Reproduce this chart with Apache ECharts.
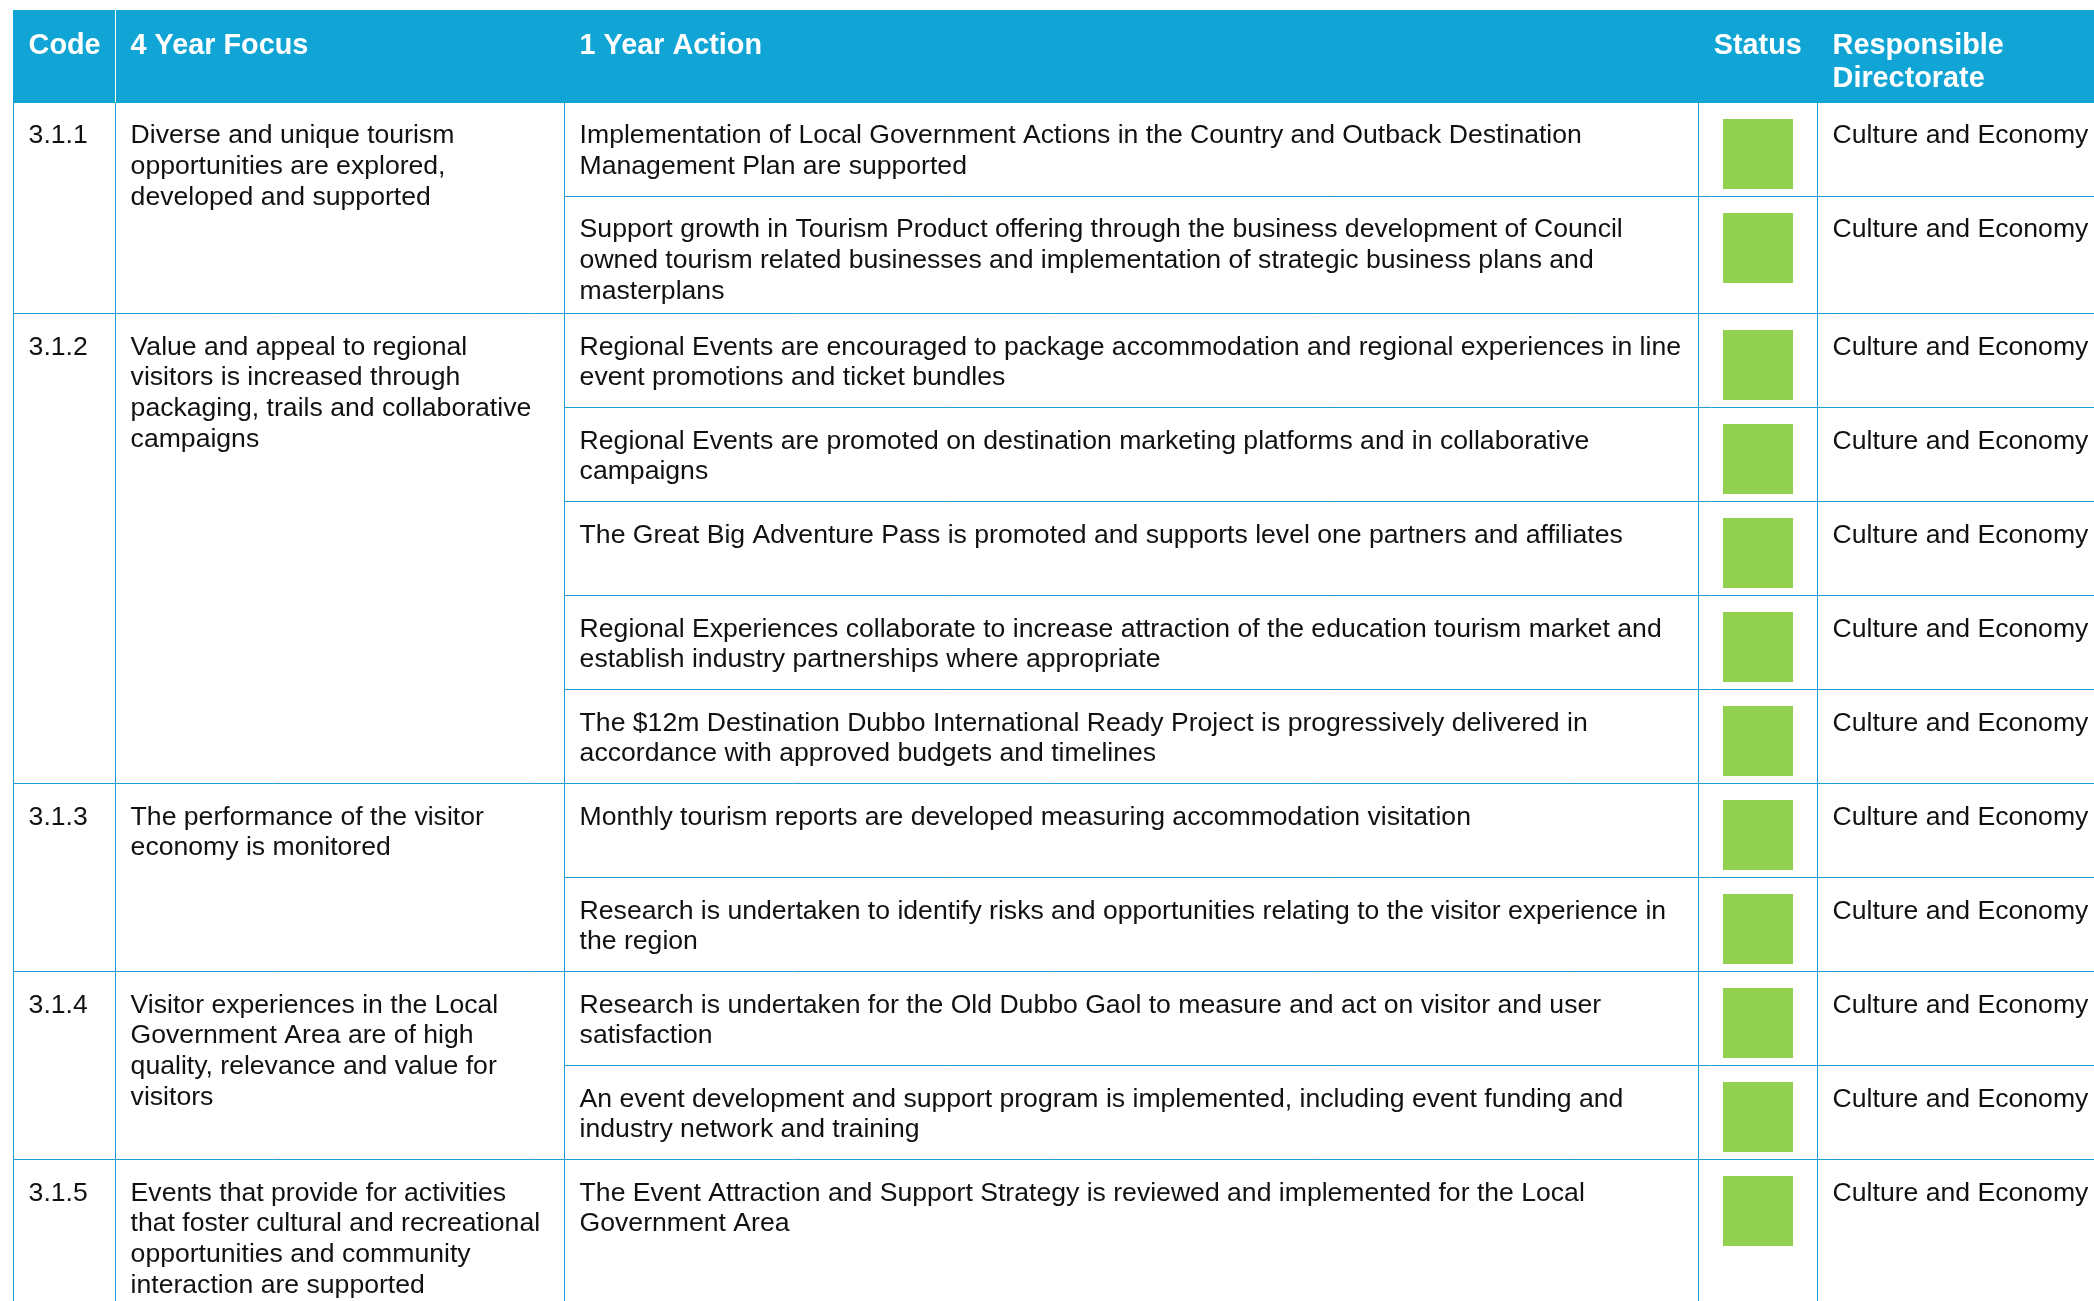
<!DOCTYPE html>
<html><head><meta charset="utf-8">
<script src="https://cdn.jsdelivr.net/npm/echarts@6/dist/echarts.min.js"></script>
<style>html,body{margin:0;padding:0;background:#fff}#c{width:2094px;height:1301px}</style>
</head><body><div id="c"></div>
<script>
// ---------- data ----------
const headers = ['Code', '4 Year Focus', '1 Year Action', 'Status', 'Responsible\nDirectorate'];
const codes = ['3.1.1', '3.1.2', '3.1.3', '3.1.4', '3.1.5'];
const focusAreas = [
  'Diverse and unique tourism\nopportunities are explored,\ndeveloped and supported',
  'Value and appeal to regional\nvisitors is increased through\npackaging, trails and collaborative\ncampaigns',
  'The performance of the visitor\neconomy is monitored',
  'Visitor experiences in the Local\nGovernment Area are of high\nquality, relevance and value for\nvisitors',
  'Events that provide for activities\nthat foster cultural and recreational\nopportunities and community\ninteraction are supported'
];
const actionCodes = ['3.1.1', '3.1.1', '3.1.2', '3.1.2', '3.1.2', '3.1.2', '3.1.2', '3.1.3', '3.1.3', '3.1.4', '3.1.4', '3.1.5'];
const actions = [
  'Implementation of Local Government Actions in the Country and Outback Destination\nManagement Plan are supported',
  'Support growth in Tourism Product offering through the business development of Council\nowned tourism related businesses and implementation of strategic business plans and\nmasterplans',
  'Regional Events are encouraged to package accommodation and regional experiences in line\nevent promotions and ticket bundles',
  'Regional Events are promoted on destination marketing platforms and in collaborative\ncampaigns',
  'The Great Big Adventure Pass is promoted and supports level one partners and affiliates',
  'Regional Experiences collaborate to increase attraction of the education tourism market and\nestablish industry partnerships where appropriate',
  'The $12m Destination Dubbo International Ready Project is progressively delivered in\naccordance with approved budgets and timelines',
  'Monthly tourism reports are developed measuring accommodation visitation',
  'Research is undertaken to identify risks and opportunities relating to the visitor experience in\nthe region',
  'Research is undertaken for the Old Dubbo Gaol to measure and act on visitor and user\nsatisfaction',
  'An event development and support program is implemented, including event funding and\nindustry network and training',
  'The Event Attraction and Support Strategy is reviewed and implemented for the Local\nGovernment Area'
];
const statuses = ['On track', 'On track', 'On track', 'On track', 'On track', 'On track',
                  'On track', 'On track', 'On track', 'On track', 'On track', 'On track'];
const directorates = ['Culture and Economy', 'Culture and Economy', 'Culture and Economy', 'Culture and Economy',
                      'Culture and Economy', 'Culture and Economy', 'Culture and Economy', 'Culture and Economy',
                      'Culture and Economy', 'Culture and Economy', 'Culture and Economy', 'Culture and Economy'];

// ---------- layout & style ----------
const W = 2094, H = 1301;
const COLS = [13.3, 115.3, 564.3, 1698.3, 1817.3, W];
const HEAD_TOP = 10, HEAD_BOT = 102.6;
const PAD = 15.3, FS = 26.6, LH = 30.7, HFS = 28.8, HLH = 33.3;
const TEXT_DY = 18.2, HEAD_TEXT_Y = 29.0;
const MIN_ROW = 94, ROW_EXTRA = 25, SQ = 70, SQ_DY = 16.7;
const FONT = "'Liberation Sans', Arial, Helvetica, sans-serif";
const BLUE = '#11a5d6', LINE = '#1e9dd3', TEXT = '#111111';
const STATUS_COLORS = { 'On track': '#92d050' };

const nLines = s => s.split('\n').length;
const rowTop = [], rowBot = [];
let yAcc = HEAD_BOT;
actions.forEach(a => {
  const h = Math.max(MIN_ROW, nLines(a) * LH + ROW_EXTRA);
  rowTop.push(yAcc); yAcc += h; rowBot.push(yAcc);
});
const gTop = [], gBot = [];
codes.forEach((c, g) => {
  const idx = actionCodes.map((ac, i) => ac === c ? i : -1).filter(i => i >= 0);
  const t = rowTop[idx[0]];
  let b = rowBot[idx[idx.length - 1]];
  b = Math.max(b, t + nLines(focusAreas[g]) * LH + ROW_EXTRA);
  gTop.push(t); gBot.push(b);
});
const snap = v => Math.floor(v) + 0.5;

function txt(text, x, y, opt) {
  return {
    type: 'text',
    style: Object.assign({
      text: text, x: x, y: y, fill: TEXT, fontSize: FS, fontFamily: FONT,
      lineHeight: LH, align: 'left', verticalAlign: 'top',
      textAlign: 'left', textVerticalAlign: 'top'
    }, opt || {})
  };
}
function hline(api, x1, x2, y, color) {
  const p1 = api.coord([x1, y]), p2 = api.coord([x2, y]);
  return { type: 'line', shape: { x1: p1[0], y1: snap(p1[1]), x2: p2[0], y2: snap(p2[1]) },
           style: { stroke: color || LINE, lineWidth: 1 } };
}
function vline(api, x, y1, y2, color) {
  const p1 = api.coord([x, y1]), p2 = api.coord([x, y2]);
  return { type: 'line', shape: { x1: snap(p1[0]), y1: p1[1], x2: snap(p2[0]), y2: p2[1] },
           style: { stroke: color || LINE, lineWidth: 1 } };
}

const chart = echarts.init(document.getElementById('c'), null, { renderer: 'canvas' });
chart.setOption({
  animation: false,
  backgroundColor: '#ffffff',
  grid: { left: 0, right: 0, top: 0, bottom: 0 },
  xAxis: { type: 'value', min: 0, max: W, show: false },
  yAxis: { type: 'value', min: 0, max: H, inverse: true, show: false },
  series: [
    { // header
      type: 'custom', name: 'header', silent: true,
      data: headers.map((h, i) => [i]),
      renderItem: function (params, api) {
        const i = api.value(0);
        const children = [];
        if (i === 0) {
          const a = api.coord([COLS[0], HEAD_TOP]), b = api.coord([W, HEAD_BOT]);
          children.push({ type: 'rect', shape: { x: Math.floor(a[0]), y: Math.round(a[1]), width: b[0] - Math.floor(a[0]), height: Math.round(b[1]) - Math.round(a[1]) },
                          style: { fill: BLUE } });
          children.push(vline(api, COLS[1], HEAD_TOP, HEAD_BOT, '#ffffff'));
        }
        let x, align = 'left';
        if (headers[i] === 'Status') { x = (COLS[i] + COLS[i + 1]) / 2; align = 'center'; }
        else x = COLS[i] + PAD;
        const p = api.coord([x, HEAD_TEXT_Y]);
        children.push(txt(headers[i], p[0], p[1], { fill: '#ffffff', fontSize: HFS, fontWeight: 'bold', lineHeight: HLH, align: align, textAlign: align }));
        return { type: 'group', children: children };
      }
    },
    { // groups: code + focus
      type: 'custom', name: 'groups', silent: true,
      data: codes.map((c, g) => [g]),
      renderItem: function (params, api) {
        const g = api.value(0);
        const children = [];
        const pc = api.coord([COLS[0] + PAD, gTop[g] + TEXT_DY]);
        children.push(txt(codes[g], pc[0], pc[1]));
        const pf = api.coord([COLS[1] + PAD, gTop[g] + TEXT_DY]);
        children.push(txt(focusAreas[g], pf[0], pf[1]));
        const yb = Math.min(gBot[g], H + 5);
        for (let k = 0; k < 5; k++) children.push(vline(api, COLS[k], gTop[g], yb));
        if (gBot[g] < H) children.push(hline(api, COLS[0], W, gBot[g]));
        return { type: 'group', children: children };
      }
    },
    { // action rows
      type: 'custom', name: 'actions', silent: true,
      data: actions.map((a, i) => [i]),
      renderItem: function (params, api) {
        const i = api.value(0);
        const children = [];
        const pa = api.coord([COLS[2] + PAD, rowTop[i] + TEXT_DY]);
        children.push(txt(actions[i], pa[0], pa[1]));
        const cx = (COLS[3] + COLS[4]) / 2;
        const s1 = api.coord([cx - SQ / 2, rowTop[i] + SQ_DY]), s2 = api.coord([cx + SQ / 2, rowTop[i] + SQ_DY + SQ]);
        children.push({ type: 'rect', shape: { x: Math.round(s1[0]), y: Math.round(s1[1]), width: Math.round(s2[0] - s1[0]), height: Math.round(s2[1] - s1[1]) },
                        style: { fill: STATUS_COLORS[statuses[i]] || '#cccccc' } });
        const pd = api.coord([COLS[4] + PAD, rowTop[i] + TEXT_DY]);
        children.push(txt(directorates[i], pd[0], pd[1]));
        const lastInGroup = i === actions.length - 1 || actionCodes[i + 1] !== actionCodes[i];
        if (!lastInGroup && rowBot[i] < H) children.push(hline(api, COLS[2], W, rowBot[i]));
        return { type: 'group', children: children };
      }
    }
  ]
});
</script></body></html>
